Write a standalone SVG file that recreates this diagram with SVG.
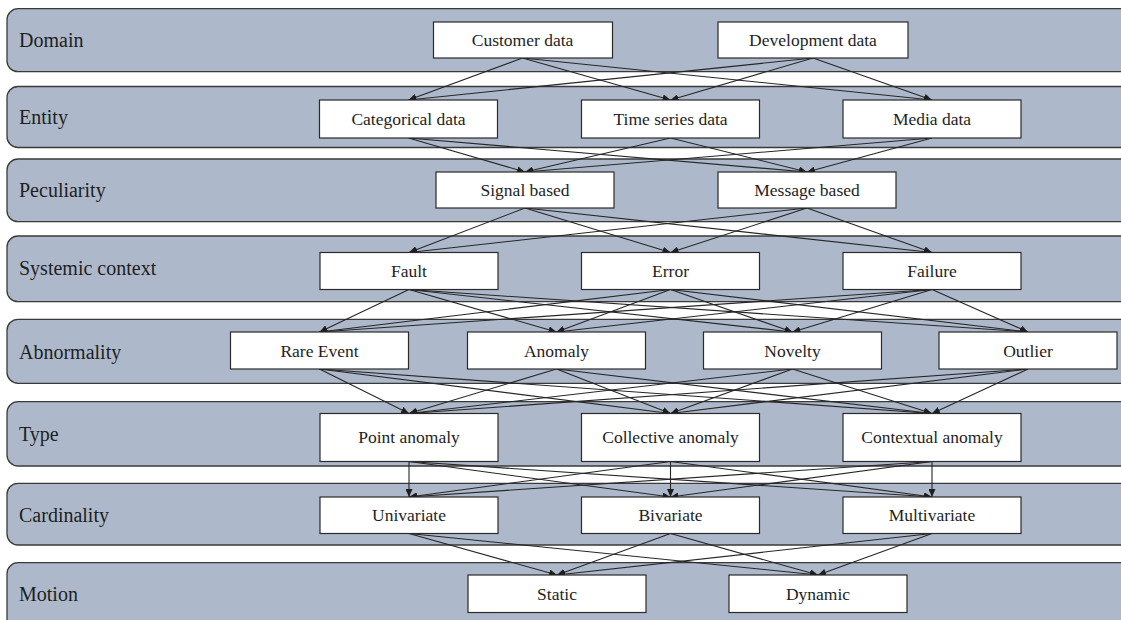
<svg xmlns="http://www.w3.org/2000/svg" width="1121" height="620" viewBox="0 0 1121 620">
<style>
.band{fill:#ADB9CA;stroke:#3a3a3a;stroke-width:1.3}
.box{fill:#ffffff;stroke:#2a2a2a;stroke-width:1.2}
.lbl{font-family:"Liberation Serif","Times New Roman",serif;font-size:20px;fill:#1e1e1e}
.txt{font-family:"Liberation Serif","Times New Roman",serif;font-size:17.5px;fill:#1e1e1e;text-anchor:middle}
.edge{stroke:#262626;stroke-width:1.1;fill:none;marker-end:url(#arr)}
</style>
<defs>
<marker id="arr" markerUnits="userSpaceOnUse" markerWidth="9" markerHeight="7" refX="8" refY="3.5" orient="auto">
<path d="M0,0 L8,3.5 L0,7 z" fill="#1e1e1e"/>
</marker>
</defs>
<rect width="1121" height="620" fill="#ffffff"/>
<g id="bands">
<g id="band-domain"><rect class="band" x="7" y="8.7" width="1130" height="63" rx="11"/><text class="lbl" x="19" y="47">Domain</text></g>
<g id="band-entity"><rect class="band" x="7" y="86.5" width="1130" height="61" rx="11"/><text class="lbl" x="19" y="123.5">Entity</text></g>
<g id="band-peculiarity"><rect class="band" x="7" y="159" width="1130" height="62.7" rx="11"/><text class="lbl" x="19" y="197">Peculiarity</text></g>
<g id="band-systemic"><rect class="band" x="7" y="236" width="1130" height="65.7" rx="11"/><text class="lbl" x="19" y="275">Systemic context</text></g>
<g id="band-abnormality"><rect class="band" x="7" y="319.3" width="1130" height="64" rx="11"/><text class="lbl" x="19" y="359">Abnormality</text></g>
<g id="band-type"><rect class="band" x="7" y="401.7" width="1130" height="64.3" rx="11"/><text class="lbl" x="19" y="441">Type</text></g>
<g id="band-cardinality"><rect class="band" x="7" y="483.3" width="1130" height="61.7" rx="11"/><text class="lbl" x="19" y="521.5">Cardinality</text></g>
<g id="band-motion"><rect class="band" x="7" y="562.7" width="1130" height="70" rx="11"/><text class="lbl" x="19" y="600.5">Motion</text></g>
</g>
<g id="connectors">
<!-- Domain -> Entity -->
<line class="edge" x1="522.5" y1="58" x2="408.5" y2="100"/>
<line class="edge" x1="522.5" y1="58" x2="670.5" y2="100"/>
<line class="edge" x1="522.5" y1="58" x2="932" y2="100"/>
<line class="edge" x1="813" y1="58" x2="408.5" y2="100"/>
<line class="edge" x1="813" y1="58" x2="670.5" y2="100"/>
<line class="edge" x1="813" y1="58" x2="932" y2="100"/>
<!-- Entity -> Peculiarity -->
<line class="edge" x1="408.5" y1="138" x2="525" y2="172"/>
<line class="edge" x1="408.5" y1="138" x2="807" y2="172"/>
<line class="edge" x1="670.5" y1="138" x2="525" y2="172"/>
<line class="edge" x1="670.5" y1="138" x2="807" y2="172"/>
<line class="edge" x1="932" y1="138" x2="525" y2="172"/>
<line class="edge" x1="932" y1="138" x2="807" y2="172"/>
<!-- Peculiarity -> Systemic context -->
<line class="edge" x1="525" y1="208" x2="409" y2="252.5"/>
<line class="edge" x1="525" y1="208" x2="670.5" y2="252.5"/>
<line class="edge" x1="525" y1="208" x2="932" y2="252.5"/>
<line class="edge" x1="807" y1="208" x2="409" y2="252.5"/>
<line class="edge" x1="807" y1="208" x2="670.5" y2="252.5"/>
<line class="edge" x1="807" y1="208" x2="932" y2="252.5"/>
<!-- Systemic context -> Abnormality -->
<line class="edge" x1="409" y1="289.5" x2="319.5" y2="332"/>
<line class="edge" x1="409" y1="289.5" x2="556.5" y2="332"/>
<line class="edge" x1="409" y1="289.5" x2="792.5" y2="332"/>
<line class="edge" x1="409" y1="289.5" x2="1028" y2="332"/>
<line class="edge" x1="670.5" y1="289.5" x2="319.5" y2="332"/>
<line class="edge" x1="670.5" y1="289.5" x2="556.5" y2="332"/>
<line class="edge" x1="670.5" y1="289.5" x2="792.5" y2="332"/>
<line class="edge" x1="670.5" y1="289.5" x2="1028" y2="332"/>
<line class="edge" x1="932" y1="289.5" x2="319.5" y2="332"/>
<line class="edge" x1="932" y1="289.5" x2="556.5" y2="332"/>
<line class="edge" x1="932" y1="289.5" x2="792.5" y2="332"/>
<line class="edge" x1="932" y1="289.5" x2="1028" y2="332"/>
<!-- Abnormality -> Type -->
<line class="edge" x1="319.5" y1="369" x2="409" y2="413.5"/>
<line class="edge" x1="319.5" y1="369" x2="670.5" y2="413.5"/>
<line class="edge" x1="319.5" y1="369" x2="932" y2="413.5"/>
<line class="edge" x1="556.5" y1="369" x2="409" y2="413.5"/>
<line class="edge" x1="556.5" y1="369" x2="670.5" y2="413.5"/>
<line class="edge" x1="556.5" y1="369" x2="932" y2="413.5"/>
<line class="edge" x1="792.5" y1="369" x2="409" y2="413.5"/>
<line class="edge" x1="792.5" y1="369" x2="670.5" y2="413.5"/>
<line class="edge" x1="792.5" y1="369" x2="932" y2="413.5"/>
<line class="edge" x1="1028" y1="369" x2="409" y2="413.5"/>
<line class="edge" x1="1028" y1="369" x2="670.5" y2="413.5"/>
<line class="edge" x1="1028" y1="369" x2="932" y2="413.5"/>
<!-- Type -> Cardinality -->
<line class="edge" x1="409" y1="461.5" x2="409" y2="497"/>
<line class="edge" x1="409" y1="461.5" x2="670.5" y2="497"/>
<line class="edge" x1="409" y1="461.5" x2="932" y2="497"/>
<line class="edge" x1="670.5" y1="461.5" x2="409" y2="497"/>
<line class="edge" x1="670.5" y1="461.5" x2="670.5" y2="497"/>
<line class="edge" x1="670.5" y1="461.5" x2="932" y2="497"/>
<line class="edge" x1="932" y1="461.5" x2="409" y2="497"/>
<line class="edge" x1="932" y1="461.5" x2="670.5" y2="497"/>
<line class="edge" x1="932" y1="461.5" x2="932" y2="497"/>
<!-- Cardinality -> Motion -->
<line class="edge" x1="409" y1="533.5" x2="557" y2="575"/>
<line class="edge" x1="409" y1="533.5" x2="818" y2="575"/>
<line class="edge" x1="670.5" y1="533.5" x2="557" y2="575"/>
<line class="edge" x1="670.5" y1="533.5" x2="818" y2="575"/>
<line class="edge" x1="932" y1="533.5" x2="557" y2="575"/>
<line class="edge" x1="932" y1="533.5" x2="818" y2="575"/>
</g>
<g id="n-customer"><rect class="box" x="433.5" y="22" width="179" height="36"/><text class="txt" x="522.5" y="46">Customer data</text></g>
<g id="n-development"><rect class="box" x="718" y="22" width="190" height="36"/><text class="txt" x="813" y="46">Development data</text></g>
<g id="n-categorical"><rect class="box" x="319.5" y="100" width="178" height="38"/><text class="txt" x="408.5" y="125">Categorical data</text></g>
<g id="n-timeseries"><rect class="box" x="581.5" y="100" width="178" height="38"/><text class="txt" x="670.5" y="125">Time series data</text></g>
<g id="n-media"><rect class="box" x="843" y="100" width="178" height="38"/><text class="txt" x="932" y="125">Media data</text></g>
<g id="n-signal"><rect class="box" x="436" y="172" width="178" height="36"/><text class="txt" x="525" y="196">Signal based</text></g>
<g id="n-message"><rect class="box" x="718" y="172" width="178" height="36"/><text class="txt" x="807" y="196">Message based</text></g>
<g id="n-fault"><rect class="box" x="320" y="252.5" width="178" height="37"/><text class="txt" x="409" y="277">Fault</text></g>
<g id="n-error"><rect class="box" x="581.5" y="252.5" width="178" height="37"/><text class="txt" x="670.5" y="277">Error</text></g>
<g id="n-failure"><rect class="box" x="843" y="252.5" width="178" height="37"/><text class="txt" x="932" y="277">Failure</text></g>
<g id="n-rare"><rect class="box" x="230.5" y="332" width="178" height="37"/><text class="txt" x="319.5" y="356.5">Rare Event</text></g>
<g id="n-anomaly"><rect class="box" x="467.5" y="332" width="178" height="37"/><text class="txt" x="556.5" y="356.5">Anomaly</text></g>
<g id="n-novelty"><rect class="box" x="703.5" y="332" width="178" height="37"/><text class="txt" x="792.5" y="356.5">Novelty</text></g>
<g id="n-outlier"><rect class="box" x="939" y="332" width="178" height="37"/><text class="txt" x="1028" y="356.5">Outlier</text></g>
<g id="n-point"><rect class="box" x="320" y="413.5" width="178" height="48"/><text class="txt" x="409" y="443">Point anomaly</text></g>
<g id="n-collective"><rect class="box" x="581.5" y="413.5" width="178" height="48"/><text class="txt" x="670.5" y="443">Collective anomaly</text></g>
<g id="n-contextual"><rect class="box" x="843" y="413.5" width="178" height="48"/><text class="txt" x="932" y="443">Contextual anomaly</text></g>
<g id="n-univariate"><rect class="box" x="320" y="497" width="178" height="36.5"/><text class="txt" x="409" y="521">Univariate</text></g>
<g id="n-bivariate"><rect class="box" x="581.5" y="497" width="178" height="36.5"/><text class="txt" x="670.5" y="521">Bivariate</text></g>
<g id="n-multivariate"><rect class="box" x="843" y="497" width="178" height="36.5"/><text class="txt" x="932" y="521">Multivariate</text></g>
<g id="n-static"><rect class="box" x="468" y="575" width="178" height="37.5"/><text class="txt" x="557" y="599.5">Static</text></g>
<g id="n-dynamic"><rect class="box" x="729" y="575" width="178" height="37.5"/><text class="txt" x="818" y="599.5">Dynamic</text></g>
</svg>
